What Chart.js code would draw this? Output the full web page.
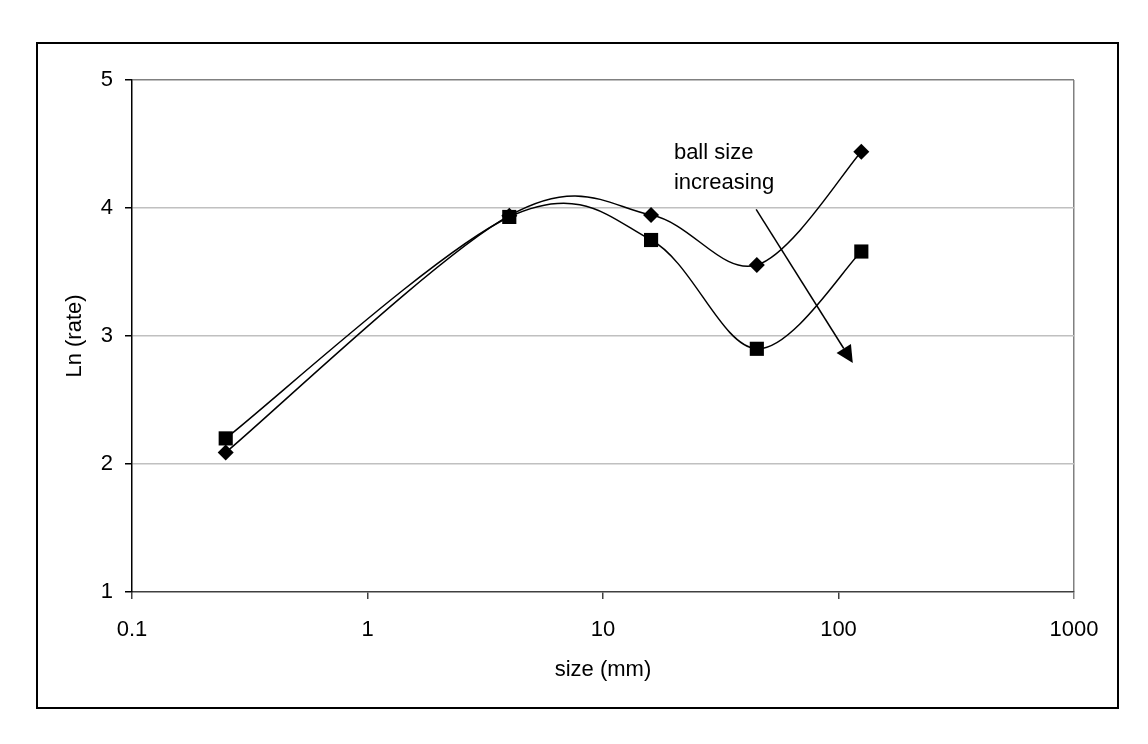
<!DOCTYPE html>
<html><head><meta charset="utf-8">
<script src="https://cdn.jsdelivr.net/npm/chart.js@4"></script>
<style>html,body{margin:0;padding:0;background:#fff;} canvas{display:block;}</style>
</head><body>
<canvas id="c" width="1148" height="744"></canvas>
<script>
const sizes = [0.25, 4, 16, 45, 125];
const diamondRates = [2.09, 3.94, 3.945, 3.555, 4.44];
const squareRates = [2.20, 3.93, 3.75, 2.90, 3.66];
const xTickValues = [0.1, 1, 10, 100, 1000];
const yTickValues = [1, 2, 3, 4, 5];
const noteLines = ['ball size', 'increasing'];
const notePos = {x: 20, y: 4.38};
const arrowFrom = {x: 44.7, y: 3.99};
const arrowTo = {x: 115, y: 2.79};

const FONT = "'Liberation Sans', Arial, sans-serif";
const font = {family: FONT, size: 22};

const toPoints = (xs, ys) => xs.map((x, i) => ({x, y: ys[i]}));

// Excel-style (uniform Catmull-Rom) smoothing of the library's own points
const smoothPlugin = {
  id: 'excelSmooth',
  beforeDatasetDraw(chart, args) {
    const line = args.meta.dataset;
    if (!line) return;
    line.updateControlPoints(chart.chartArea);
    const pts = args.meta.data;
    for (let i = 0; i < pts.length; i++) {
      const p = pts[i];
      const prev = pts[i - 1] || p, next = pts[i + 1] || p;
      const dx = (next.x - prev.x) / 6, dy = (next.y - prev.y) / 6;
      p.cp1x = p.x - dx; p.cp1y = p.y - dy;
      p.cp2x = p.x + dx; p.cp2y = p.y + dy;
    }
  }
};

const framePlugin = {
  id: 'frame',
  beforeDraw(chart) {
    const ctx = chart.ctx;
    ctx.save();
    ctx.fillStyle = '#fff';
    ctx.fillRect(0, 0, chart.width, chart.height);
    ctx.strokeStyle = '#000';
    ctx.lineWidth = 2;
    ctx.strokeRect(37, 43, 1081, 665);
    ctx.restore();
  },
  afterDatasetsDraw(chart) {
    const {ctx, scales: {x, y}} = chart;
    ctx.save();
    ctx.fillStyle = '#000';
    ctx.font = `22px ${FONT}`;
    ctx.textBaseline = 'alphabetic';
    ctx.textAlign = 'left';
    const nx = x.getPixelForValue(notePos.x), ny = y.getPixelForValue(notePos.y);
    noteLines.forEach((t, i) => ctx.fillText(t, nx, ny + i * 30));
    const x1 = x.getPixelForValue(arrowFrom.x), y1 = y.getPixelForValue(arrowFrom.y);
    const x2 = x.getPixelForValue(arrowTo.x), y2 = y.getPixelForValue(arrowTo.y);
    const ang = Math.atan2(y2 - y1, x2 - x1);
    const L = 17, W = 8.5;
    const bx = x2 - L * Math.cos(ang), by = y2 - L * Math.sin(ang);
    ctx.strokeStyle = '#000';
    ctx.lineWidth = 1.5;
    ctx.beginPath(); ctx.moveTo(x1, y1); ctx.lineTo(bx, by); ctx.stroke();
    ctx.beginPath();
    ctx.moveTo(x2, y2);
    ctx.lineTo(bx + W * Math.sin(ang), by - W * Math.cos(ang));
    ctx.lineTo(bx - W * Math.sin(ang), by + W * Math.cos(ang));
    ctx.closePath();
    ctx.fill();
    ctx.restore();
  }
};

new Chart(document.getElementById('c'), {
  type: 'line',
  data: {
    datasets: [
      {
        label: 'diamond', data: toPoints(sizes, diamondRates), order: 1,
        borderColor: '#000', backgroundColor: '#000', borderWidth: 1.5,
        pointStyle: 'rectRot', pointRadius: 8, pointBorderWidth: 0,
        tension: 0.4, fill: false
      },
      {
        label: 'square', data: toPoints(sizes, squareRates), order: 0,
        borderColor: '#000', backgroundColor: '#000', borderWidth: 1.5,
        pointStyle: 'rect', pointRadius: 10, pointBorderWidth: 0,
        tension: 0.4, fill: false
      }
    ]
  },
  options: {
    responsive: false,
    animation: false,
    layout: {padding: {left: 58, top: 80, right: 74, bottom: 57}},
    plugins: {legend: {display: false}, tooltip: {enabled: false}},
    scales: {
      x: {
        type: 'logarithmic', min: 0.1, max: 1000,
        afterBuildTicks: s => { s.ticks = xTickValues.map(v => ({value: v})); },
        afterFit: s => { s.height = 95; },
        ticks: {callback: v => String(v), font, color: '#000', padding: 18, autoSkip: false, maxRotation: 0},
        grid: {
          color: c => (c.tick && c.tick.value === 1000) ? '#808080' : 'rgba(0,0,0,0)',
          tickColor: c => (c.tick && c.tick.value === 1000) ? '#808080' : '#404040',
          tickLength: 7, lineWidth: 1.5
        },
        border: {color: '#404040', width: 1.5},
        title: {display: true, text: 'size (mm)', font, color: '#000'}
      },
      y: {
        type: 'linear', min: 1, max: 5,
        afterBuildTicks: s => { s.ticks = yTickValues.map(v => ({value: v})); },
        afterFit: s => { s.width = 74; },
        ticks: {font, color: '#000', padding: 12},
        grid: {
          color: c => c.tick.value === 5 ? '#808080' : (c.tick.value === 1 ? 'rgba(0,0,0,0)' : '#c0c0c0'),
          tickColor: '#000', tickLength: 7, lineWidth: 1.5
        },
        border: {color: '#000', width: 1.5},
        title: {display: true, text: 'Ln (rate)', font, color: '#000'}
      }
    }
  },
  plugins: [smoothPlugin, framePlugin]
});
</script>
</body></html>
